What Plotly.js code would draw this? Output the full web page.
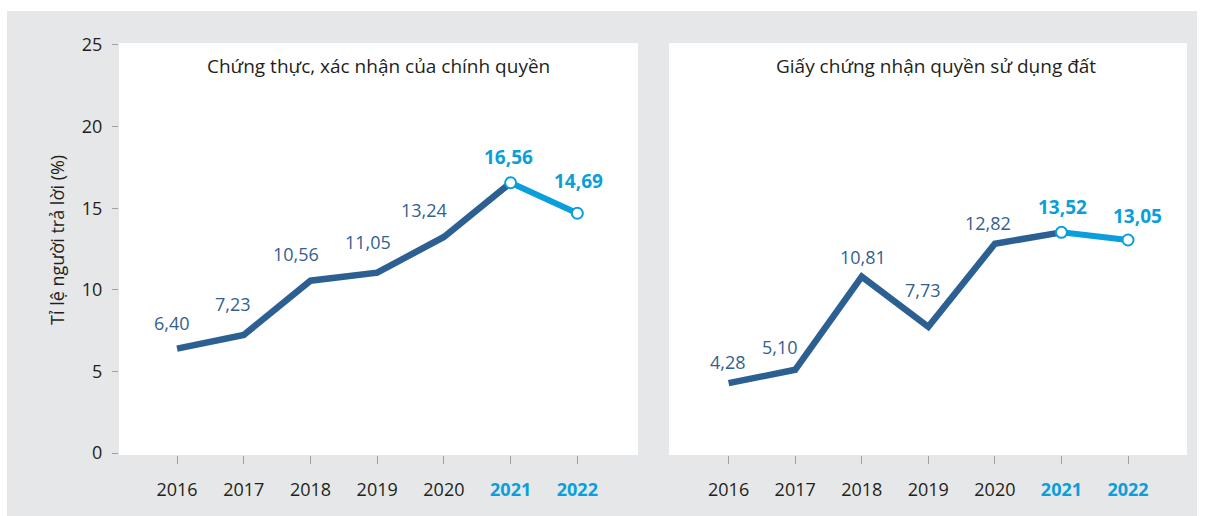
<!DOCTYPE html>
<html>
<head>
<meta charset="utf-8">
<script src="https://cdn.plot.ly/plotly-3.0.1.min.js"></script>
<style>
  html, body { margin: 0; padding: 0; background: #ffffff; }
  #wrap { position: absolute; left: 7px; top: 11px; width: 1190px; height: 505px; background: #e6e7e8; }
  #chart { width: 1190px; height: 505px; }
</style>
</head>
<body>
<div id="wrap"><div id="chart"></div></div>
<script>
// ---- data ----
const years = [2016, 2017, 2018, 2019, 2020, 2021, 2022];
const chungThuc = [6.40, 7.23, 10.56, 11.05, 13.24, 16.56, 14.69];
const giayChungNhan = [4.28, 5.10, 10.81, 7.73, 12.82, 13.52, 13.05];
const panelTitles = ["Chứng thực, xác nhận của chính quyền", "Giấy chứng nhận quyền sử dụng đất"];
const yTitle = "Tỉ lệ người trả lời (%)";
const yTicks = [0, 5, 10, 15, 20, 25];
const highlightYears = [2021, 2022];

// ---- styles / placement ----
const DARK = '#2d6092';
const DARK_TEXT = '#33618f';
const LIGHT = '#0a9fda';
const FONT = 'Open Sans, sans-serif';
const labelShiftLeft = [[-5, 26], [-11, 31], [-14, 27], [-9, 31], [-20, 27], [-2, 26], [1, 32]];
const labelShiftRight = [[-1, 21], [-15, 23], [1, 20], [-5, 37], [-7, 21], [1, 25], [9, 24]];

const fmt = v => v.toFixed(2).replace('.', ',');
const isHi = y => highlightYears.indexOf(y) >= 0;
const nHi = years.findIndex(isHi); // index of first highlighted year

function tracesFor(vals, xa, ya) {
  return [
    { x: years.slice(0, nHi + 1), y: vals.slice(0, nHi + 1), xaxis: xa, yaxis: ya,
      mode: 'lines', line: { color: DARK, width: 6.5 }, hoverinfo: 'skip' },
    { x: years.slice(nHi), y: vals.slice(nHi), xaxis: xa, yaxis: ya,
      mode: 'lines+markers', line: { color: LIGHT, width: 6 },
      marker: { size: 11, color: '#ffffff', line: { color: LIGHT, width: 2 } }, hoverinfo: 'skip' }
  ];
}

const data = [].concat(tracesFor(chungThuc, 'x', 'y'), tracesFor(giayChungNhan, 'x2', 'y2'));

const annotations = [];
function addLabels(vals, xr, yr, shifts) {
  years.forEach((yr0, i) => {
    const hi = isHi(yr0);
    annotations.push({
      x: yr0, y: vals[i], xref: xr, yref: yr, showarrow: false,
      text: hi ? '<b>' + fmt(vals[i]) + '</b>' : fmt(vals[i]),
      xshift: shifts[i][0], yshift: shifts[i][1],
      font: { family: FONT, size: hi ? 19 : 18, color: hi ? LIGHT : DARK_TEXT }
    });
  });
}
addLabels(chungThuc, 'x', 'y', labelShiftLeft);
addLabels(giayChungNhan, 'x2', 'y2', labelShiftRight);

annotations.push({ text: panelTitles[0], xref: 'x domain', yref: 'y domain', x: 0.5, y: 0.944,
  xanchor: 'center', yanchor: 'middle', showarrow: false, font: { family: FONT, size: 19, color: '#231f20' } });
annotations.push({ text: panelTitles[1], xref: 'x2 domain', yref: 'y2 domain', x: 0.515, y: 0.944,
  xanchor: 'center', yanchor: 'middle', showarrow: false, font: { family: FONT, size: 19, color: '#231f20' } });
annotations.push({ text: yTitle, xref: 'paper', yref: 'y domain', x: -0.058, y: 0.522, textangle: -90,
  xanchor: 'center', yanchor: 'middle', showarrow: false, font: { family: FONT, size: 18, color: '#231f20' } });

const tickText = years.map(y => isHi(y)
  ? '<b><span style="color:' + LIGHT + '">' + y + '</span></b>'
  : String(y));

const xCommon = {
  tickmode: 'array', tickvals: years, ticktext: tickText,
  ticks: 'outside', ticklen: 8, tickwidth: 1, tickcolor: '#a0a0a0',
  showgrid: false, zeroline: false, showline: false, fixedrange: true,
  tickfont: { family: FONT, size: 18, color: '#231f20' }, ticklabelstandoff: 10
};
const yCommon = { range: [-0.12, 25.12], showgrid: false, zeroline: false, showline: false, fixedrange: true };

const layout = {
  width: 1190, height: 505,
  margin: { l: 112, r: 10, t: 32, b: 61 },
  paper_bgcolor: '#e6e7e8', plot_bgcolor: '#ffffff',
  showlegend: false,
  xaxis: Object.assign({}, xCommon, { domain: [0, 0.486], range: [2015.13, 2022.91], anchor: 'y' }),
  xaxis2: Object.assign({}, xCommon, { domain: [0.515, 1], range: [2015.105, 2022.886], anchor: 'y2' }),
  yaxis: Object.assign({}, yCommon, { anchor: 'x', tickmode: 'array', tickvals: yTicks,
    ticks: 'outside', ticklen: 6, tickwidth: 1, tickcolor: '#a0a0a0', ticklabelstandoff: 6,
    tickfont: { family: FONT, size: 18, color: '#231f20' } }),
  yaxis2: Object.assign({}, yCommon, { anchor: 'x2', showticklabels: false, ticks: '' }),
  annotations: annotations
};

Plotly.newPlot('chart', data, layout, { displayModeBar: false, staticPlot: true });
</script>
</body>
</html>
